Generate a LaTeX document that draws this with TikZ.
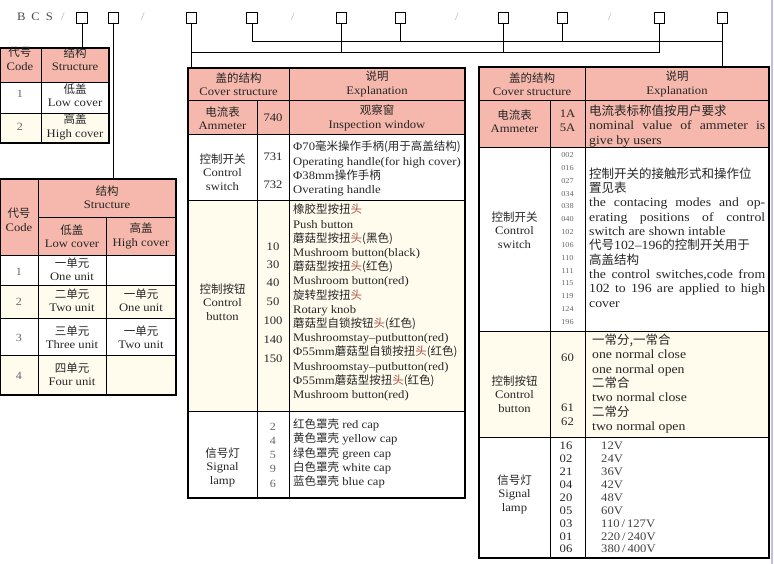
\documentclass[tikz,border=0pt]{standalone}
\usepackage{fontspec}
\setmainfont{Liberation Serif}[FakeStretch=1.1]
\newfontfamily\cjk{Noto Sans CJK SC}
\newcommand{\zh}[1]{{\cjk #1}}
\definecolor{hdpink}{RGB}{246,184,172}
\definecolor{rowcream}{RGB}{255,252,238}
\definecolor{toured}{RGB}{170,80,70}
\definecolor{edgeblue}{RGB}{190,190,235}
\newcommand{\tou}{\textcolor{toured}{\zh{头}}}

\tikzset{
  cell/.style={inner sep=0pt, align=center, text=black!85, font=\fontsize{11.5}{13.5}\selectfont},
  numtxt/.style={inner sep=0pt, text=black!60, font=\fontsize{11}{13}\selectfont},
  tinytxt/.style={inner sep=0pt, text=black!60, font=\fontsize{7.5}{9}\selectfont},
  txtlines/.style={inner sep=0pt, anchor=west, align=left, text=black!85, font=\fontsize{11.5}{14.2}\selectfont},
  rtxtlines/.style={txtlines, font=\fontsize{12.5}{14.3}\selectfont},
  slot/.style={draw, minimum size=10.5pt, inner sep=0pt, line width=0.9pt},
  tblframe/.style={line width=1.8pt},
  tblrule/.style={line width=0.9pt},
}

\begin{document}
\begin{tikzpicture}[x=1pt,y=-1pt]
\useasboundingbox (0,0) rectangle (774,564);
\draw[edgeblue, line width=1.5pt] (772,0) -- (772,564);

% code header
\node[cell,text=black!70] (bcs) at (35,17) {B\hspace{6pt}C\hspace{6pt}S};
\foreach \x in {63,143,293,457,610}
  \node[cell,text=black!30] (sl\x) at (\x,17) {/};
\foreach \x [count=\i] in {82,113.5,191.5,252,341.5,400.5,503.5,562.5,659.5,722.5}
  \node[slot] (b\i) at (\x,18) {};

\coordinate (ta) at (82,48);
\coordinate (tb) at (113.5,179);
\coordinate (tc) at (191.5,68);
\coordinate (td) at (722.5,67);
\coordinate (upbus) at (0,41);
\coordinate (lowbus) at (0,52);

\begin{scope}[line width=0.9pt]
\draw (b1) -- (ta);
\draw (b2) -- (tb);
\draw (b3) -- (tc);
\draw (b10) -- (td);
\draw (b4) -- (b4 |- upbus) -- (b10 |- upbus);
\draw (b6) -- (b6 |- upbus);
\draw (b8) -- (b8 |- upbus);
\draw (b3 |- lowbus) -- (b9 |- lowbus);
\foreach \i in {5,7,9}
  \draw (b\i) -- (b\i |- lowbus);
\end{scope}

% table: cover
\fill[hdpink] (0,48) rectangle (109,82);
\fill[rowcream] (0,113) rectangle (109,143);
\draw[tblrule] (41,48) -- (41,143) (0,82) -- (109,82) (0,113) -- (109,113);
\draw[tblframe] (0,48) rectangle (109,143);
\node[cell] (a-code) at (20,59) {\zh{代号}\\Code};
\node[cell] (a-str) at (75,59) {\zh{结构}\\Structure};
\node[numtxt] (a-1) at (20,94) {1};
\node[cell] (a-low) at (75,95) {\zh{低盖}\\Low cover};
\node[numtxt] (a-2) at (20,127) {2};
\node[cell] (a-high) at (75,127) {\zh{高盖}\\High cover};

% table: units
\fill[hdpink] (0,179) rectangle (176,255);
\fill[rowcream] (0,285) rectangle (176,318);
\fill[rowcream] (0,355) rectangle (176,395);
\draw[tblrule] (38,179) -- (38,395) (106,217) -- (106,395) (38,217) -- (176,217)
  (0,255) -- (176,255) (0,285) -- (176,285) (0,318) -- (176,318) (0,355) -- (176,355);
\draw[tblframe] (0,179) rectangle (176,395);
\node[cell] (b-code) at (19,220) {\zh{代号}\\Code};
\node[cell] (b-str) at (107,197) {\zh{结构}\\Structure};
\node[cell] (b-low) at (72,236) {\zh{低盖}\\Low cover};
\node[cell] (b-high) at (141,236) {\zh{高盖}\\High cover};
\node[numtxt] (b-1) at (19,272) {1};
\node[numtxt] (b-2) at (19,302) {2};
\node[numtxt] (b-3) at (19,338) {3};
\node[numtxt] (b-4) at (19,376) {4};
\node[cell] (b-one) at (72,269) {\zh{一单元}\\One unit};
\node[cell] (b-two) at (72,300) {\zh{二单元}\\Two unit};
\node[cell] (b-onehi) at (141,300) {\zh{一单元}\\One unit};
\node[cell] (b-three) at (72,337) {\zh{三单元}\\Three unit};
\node[cell] (b-twohi) at (141,337) {\zh{一单元}\\Two unit};
\node[cell] (b-four) at (72,374) {\zh{四单元}\\Four unit};

% table: low cover parts
\fill[hdpink] (188,68) rectangle (465,134);
\fill[rowcream] (188,200) rectangle (465,411);
\draw[tblrule] (257,100) -- (257,498) (289,68) -- (289,498) (188,100) -- (465,100)
  (188,134) -- (465,134) (188,200) -- (465,200) (188,411) -- (465,411);
\draw[tblframe] (188,68) rectangle (465,498);
\node[cell] (c-cov) at (238.5,84) {\zh{盖的结构}\\Cover structure};
\node[cell] (c-exp) at (377,84) {\zh{说明}\\Explanation};
\node[cell] (c-amm) at (222.5,118) {\zh{电流表}\\Ammeter};
\node[cell] (c-740) at (273,118) {740};
\node[cell] (c-win) at (377,118) {\zh{观察窗}\\Inspection window};
\node[cell] (c-sw) at (222.5,172) {\zh{控制开关}\\Control\\switch};
\node[cell] (c-731) at (273,157) {731};
\node[cell] (c-732) at (273,185) {732};
\node[txtlines] (c-swtxt) at (293,168.5) {Φ70\zh{毫米操作手柄(用于高盖结构)}\\
  Operating handle(for high cover)\\Φ38mm\zh{操作手柄}\\Overating handle};
\node[cell] (c-btn) at (222.5,302) {\zh{控制按钮}\\Control\\button};
\foreach \n/\y in {10/247,30/265,40/283,50/302,100/321,140/340,150/359}
  \node[cell] (c-n\n) at (273,\y) {\n};
\node[txtlines] (c-btntxt) at (293,302.5) {\zh{橡胶型按扭}\tou\\Push button\\
  \zh{蘑菇型按扭}\tou\zh{(黑色)}\\Mushroom button(black)\\
  \zh{蘑菇型按扭}\tou\zh{(红色)}\\Mushroom button(red)\\
  \zh{旋转型按扭}\tou\\Rotary knob\\
  \zh{蘑菇型自锁按钮}\tou\zh{(红色)}\\Mushroomstay--putbutton(red)\\
  Φ55mm\zh{蘑菇型自锁按扭}\tou\zh{(红色)}\\Mushroomstay--putbutton(red)\\
  Φ55mm\zh{蘑菇型按扭}\tou\zh{(红色)}\\Mushroom button(red)};
\node[cell] (c-lamp) at (222.5,467) {\zh{信号灯}\\Signal\\lamp};
\foreach \n/\y in {2/427,4/441,5/455,9/469,6/484}
  \node[numtxt] (c-l\n) at (273,\y) {\n};
\node[txtlines] (c-lamptxt) at (293,453.5) {\zh{红色罩壳} red cap\\\zh{黄色罩壳} yellow cap\\
  \zh{绿色罩壳} green cap\\\zh{白色罩壳} white cap\\\zh{蓝色罩壳} blue cap};

% table: high cover parts
\fill[hdpink] (479,67) rectangle (769,147);
\fill[rowcream] (479,331) rectangle (769,437);
\draw[tblrule] (550,100) -- (550,558) (585,67) -- (585,558) (479,100) -- (769,100)
  (479,147) -- (769,147) (479,331) -- (769,331) (479,437) -- (769,437);
\draw[tblframe] (479,67) rectangle (769,558);
\node[cell] (d-cov) at (532,84) {\zh{盖的结构}\\Cover structure};
\node[cell] (d-exp) at (677,84) {\zh{说明}\\Explanation};
\node[cell] (d-amm) at (514.5,121) {\zh{电流表}\\Ammeter};
\node[cell] (d-amp) at (567.5,121) {1A\\5A};
\node[rtxtlines] (d-amptxt) at (589,126) {\zh{电流表标称值按用户要求}\\
  \makebox[176pt][s]{nominal value of ammeter is}\\give by users};
\node[cell] (d-sw) at (514.5,230) {\zh{控制开关}\\Control\\switch};
\foreach \c [count=\i from 0] in {002,016,027,034,038,040,102,106,110,111,115,119,124,196}
  \node[tinytxt] (d-c\c) at (567.5,155+12.85*\i) {\c};
\node[rtxtlines] (d-swtxt) at (589,237.5) {\zh{控制开关的接触形式和操作位}\\\zh{置见表}\\
  \makebox[176pt][s]{the contacing modes and op-}\\
  \makebox[176pt][s]{erating positions of control}\\
  switch are shown intable\\
  \zh{代号}102--196\zh{的控制开关用于}\\\zh{高盖结构}\\
  \makebox[176pt][s]{the control switches,code from}\\
  \makebox[176pt][s]{102 to 196 are applied to high}\\cover};
\node[cell] (d-btn) at (514.5,394) {\zh{控制按钮}\\Control\\button};
\foreach \n/\y in {60/358,61/408,62/422}
  \node[cell] (d-n\n) at (567.5,\y) {\n};
\node[rtxtlines] (d-btntxt) at (592,383.5) {\zh{一常分,一常合}\\one normal close\\one normal open\\
  \zh{二常合}\\two normal close\\\zh{二常分}\\two normal open};
\node[cell] (d-lamp) at (514.5,494) {\zh{信号灯}\\Signal\\lamp};
\foreach \c/\v [count=\i from 0] in {16/{12V},02/{24V},21/{36V},04/{42V},20/{48V},05/{60V},03/{110\,/\,127V},01/{220\,/\,240V},06/{380\,/\,400V}}{
  \node[cell] (d-l\c) at (566,446+12.9*\i) {\c};
  \node[txtlines,text=black!75] (d-v\c) at (601,446+12.9*\i) {\v};
}
\end{tikzpicture}
\end{document}
